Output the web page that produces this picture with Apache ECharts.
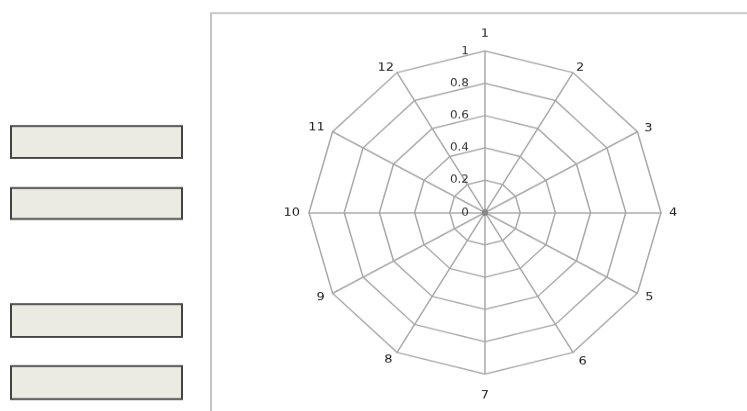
<!DOCTYPE html>
<html>
<head>
<meta charset="utf-8">
<script src="https://cdn.jsdelivr.net/npm/echarts@6/dist/echarts.min.js"></script>
<style>
  html, body { margin: 0; padding: 0; background: #fff; overflow: hidden; }
  #wrap { width: 747px; height: 411px; overflow: hidden; position: relative; }
  #chart { width: 747px; height: 448px; transform: scaleY(0.918); transform-origin: 0 0; }
</style>
</head>
<body>
<div id="wrap"><div id="chart"></div></div>
<script>
// the radar in the picture is slightly squashed vertically
const SCALE_Y = 0.918;

const categories = ["1", "2", "3", "4", "5", "6", "7", "8", "9", "10", "11", "12"];
const maxValue = 1;
const values = [0, 0, 0, 0, 0, 0, 0, 0, 0, 0, 0, 0];

// empty boxes on the left: [top, bottom] in screen pixels
const boxRows = [[126, 158], [188, 219], [304, 337], [366, 399]];

// name placement tweaks, one per category (gap from the vertex, vertical align)
const nameGaps = [12, 6, 8, 8, 9, 11, 17, 9, 9, 9, 9, 6];
const nameAligns = [null, "middle", "middle", null, null, null, null, null, null, null, "middle", "middle"];

function sy(v) {
  return v / SCALE_Y;
}

function buildIndicators() {
  const list = categories.map((name, i) => {
    const item = {
      name,
      max: maxValue,
      min: 0,
      nameGap: nameGaps[i],
      axisLabel: { show: i === 0 },
    };
    if (nameAligns[i]) {
      item.nameTextStyle = { verticalAlign: nameAligns[i] };
    }
    return item;
  });
  // echarts runs counter-clockwise, the picture runs clockwise from the top
  return [list[0]].concat(list.slice(1).reverse());
}

function buildValues() {
  return [values[0]].concat(values.slice(1).reverse());
}

function buildGraphics() {
  const items = [
    {
      type: "rect",
      shape: { x: 211, y: sy(13), width: 600, height: 500 },
      style: { fill: "none", stroke: "#c4c4c4", lineWidth: 2 },
      silent: true,
    },
  ];
  boxRows.forEach(([top, bottom]) => {
    items.push({
      type: "rect",
      shape: { x: 11, y: sy(top), width: 171, height: sy(bottom) - sy(top) },
      style: { fill: "#ecebe1", stroke: "#444444", lineWidth: 2 },
      silent: true,
    });
  });
  return items;
}

const chart = echarts.init(document.getElementById("chart"), null, { renderer: "canvas" });
chart.setOption({
  animation: false,
  graphic: buildGraphics(),
  radar: {
    center: [485, sy(212.5)],
    radius: 176,
    startAngle: 90,
    splitNumber: 5,
    shape: "polygon",
    indicator: buildIndicators(),
    nameGap: 12,
    axisName: {
      color: "#222",
      fontSize: 13,
      fontFamily: "DejaVu Sans",
    },
    axisLabel: {
      show: false,
      color: "#333",
      fontSize: 12,
      fontFamily: "DejaVu Sans",
      margin: 16,
    },
    axisTick: { show: false },
    axisLine: { lineStyle: { color: "#a8a8a8", width: 1.5 } },
    splitLine: { lineStyle: { color: "#a8a8a8", width: 1.5 } },
    splitArea: { show: false },
  },
  series: [
    {
      type: "radar",
      symbol: "circle",
      symbolSize: 6,
      itemStyle: { color: "#888" },
      lineStyle: { width: 0 },
      data: [{ value: buildValues(), name: "series" }],
    },
  ],
});
</script>
</body>
</html>
